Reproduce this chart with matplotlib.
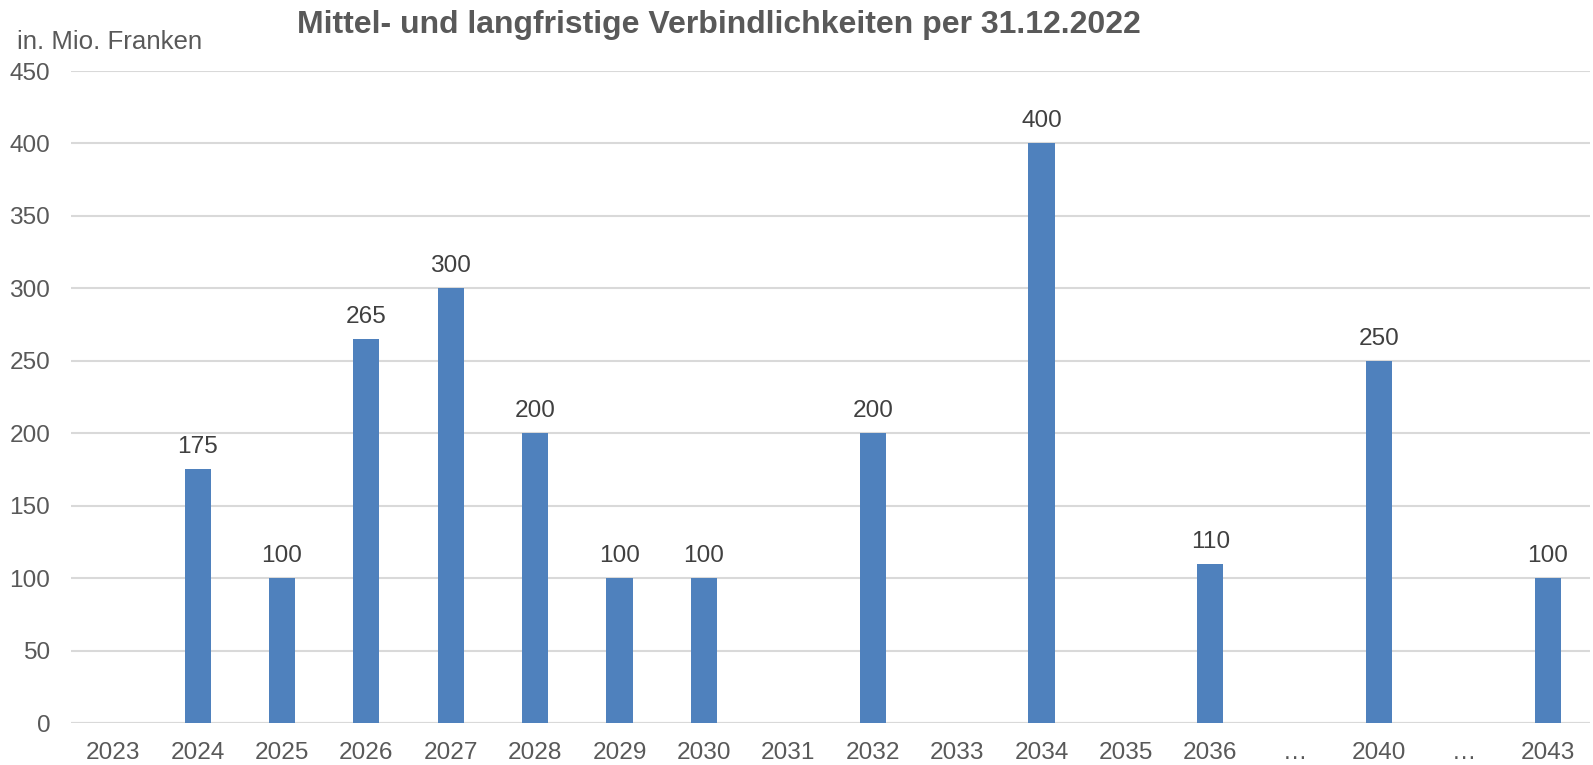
import matplotlib
matplotlib.use("Agg")
import matplotlib.pyplot as plt
import numpy as np

plt.rcParams['font.family'] = ['Liberation Sans', 'DejaVu Sans']

categories = ["2023", "2024", "2025", "2026", "2027", "2028", "2029", "2030", "2031",
              "2032", "2033", "2034", "2035", "2036", "\u2026", "2040", "\u2026", "2043"]
values = [0, 175, 100, 265, 300, 200, 100, 100, 0, 200, 0, 400, 0, 110, 0, 250, 0, 100]
yticks = [0, 50, 100, 150, 200, 250, 300, 350, 400, 450]

title = "Mittel- und langfristige Verbindlichkeiten per 31.12.2022"
unit_label = "in. Mio. Franken"

bar_color = "#4F81BD"
grid_color = "#D9D9D9"
tick_color = "#595959"
label_color = "#404040"

fig = plt.figure(figsize=(15.93, 7.65), dpi=100)
ax = fig.add_axes([71 / 1593, 1 - 723 / 765, (1590 - 71) / 1593, (723 - 71) / 765])

x = np.arange(len(categories))
bars = ax.bar(x, values, width=0.31, color=bar_color, zorder=3)

for xi, v in zip(x, values):
    if v:
        ax.annotate(f"{v}", (xi, v), xytext=(0, 8), textcoords="offset points",
                    ha="center", va="bottom", fontsize=17.6, color=label_color)

ax.set_xlim(-0.5, len(categories) - 0.5)
ax.set_ylim(0, 450)
ax.set_yticks(yticks)
ax.set_xticks(x)
ax.set_xticklabels(categories)
ax.tick_params(axis="both", length=0, labelsize=17.6, labelcolor=tick_color)
ax.tick_params(axis="x", pad=13.5)
ax.tick_params(axis="y", pad=15)
ax.yaxis.grid(True, color=grid_color, linewidth=1.5, zorder=0)
for s in ax.spines.values():
    s.set_visible(False)
ax.axhline(0, color=grid_color, linewidth=1.5, zorder=2)

fig.text(719 / 1593, 1 - 33 / 765, title, ha="center", va="baseline", fontsize=23,
         fontweight="bold", color=tick_color)
fig.text(17 / 1593, 1 - 49 / 765, unit_label, ha="left", va="baseline",
         fontsize=18.6, color=tick_color)

fig.savefig("out.png", dpi=100)
